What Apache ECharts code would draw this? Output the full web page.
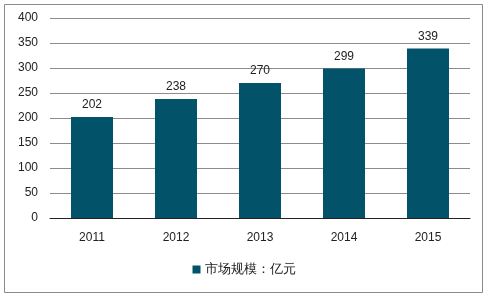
<!DOCTYPE html>
<html>
<head>
<meta charset="utf-8">
<script src="https://cdn.jsdelivr.net/npm/echarts@6/dist/echarts.min.js"></script>
<style>html,body{margin:0;padding:0;background:#fff;}#c{width:488px;height:295px;}</style>
</head>
<body>
<div id="c"></div>
<script>
const categories = ['2011', '2012', '2013', '2014', '2015'];
const values = [202, 238, 270, 299, 339];
const seriesName = '市场规模：亿元';

const chart = echarts.init(document.getElementById('c'));
const font = '"Liberation Sans", Arial, sans-serif';
chart.setOption({
  animation: false,
  textStyle: { fontFamily: font },
  graphic: [{
    type: 'rect',
    shape: { x: 4.5, y: 4.5, width: 478, height: 288 },
    style: { fill: 'none', stroke: '#8a8a8a', lineWidth: 1 },
    silent: true
  }],
  grid: { left: 50, right: 18, top: 18, bottom: 77, containLabel: false },
  legend: {
    bottom: 14,
    left: 'center',
    itemWidth: 8, itemHeight: 8, itemGap: 10,
    icon: 'rect',
    textStyle: { fontSize: 13, color: '#222', fontFamily: font, padding: [0, 0, 0, -1] },
    data: [seriesName]
  },
  xAxis: {
    type: 'category',
    data: categories,
    axisLine: { lineStyle: { color: '#222', width: 1 } },
    axisTick: { show: false },
    axisLabel: { fontSize: 12, color: '#222', margin: 14 }
  },
  yAxis: {
    type: 'value',
    min: 0, max: 400, interval: 50,
    axisLine: { show: false },
    axisTick: { show: false },
    axisLabel: { fontSize: 12, color: '#222', margin: 12 },
    splitLine: { lineStyle: { color: '#8c8c8c', width: 1 } }
  },
  series: [{
    name: seriesName,
    type: 'bar',
    data: values,
    barWidth: '50%',
    itemStyle: { color: '#02526a' },
    label: { show: true, position: 'top', fontSize: 12, color: '#222', distance: 6 }
  }]
});
</script>
</body>
</html>
